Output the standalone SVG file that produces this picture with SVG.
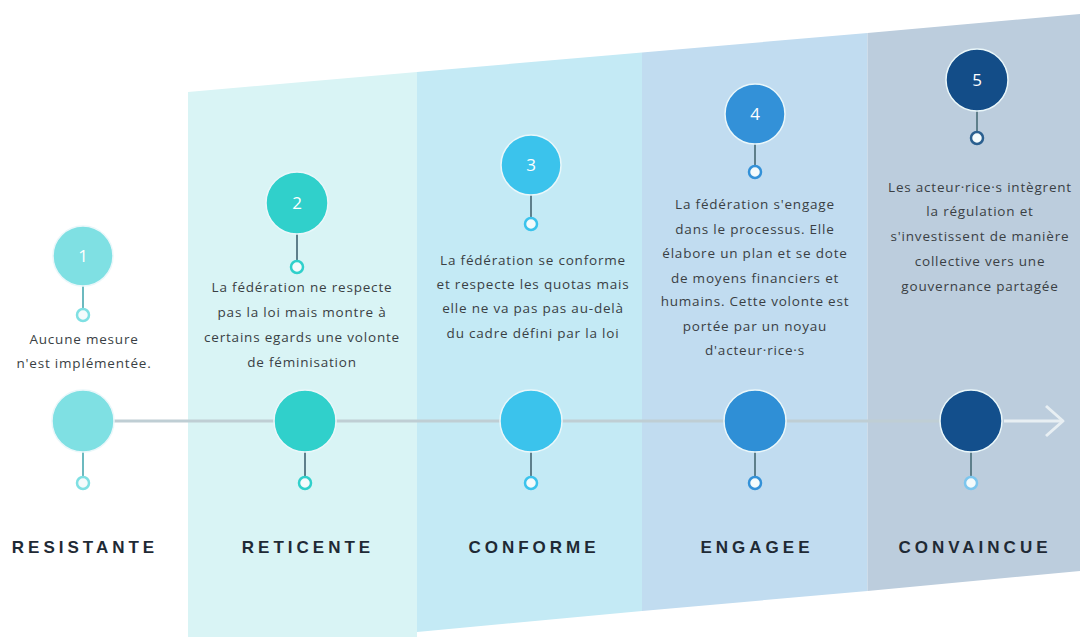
<svg xmlns="http://www.w3.org/2000/svg" width="1080" height="637" viewBox="0 0 1080 637">
<defs>
<style>
.desc{font-family:"Open Sans","Liberation Sans",sans-serif;font-size:13.5px;letter-spacing:0.8px;fill:#3a3f44;text-anchor:middle}
.lbl{font-family:"Liberation Sans",Arial,sans-serif;font-weight:bold;font-size:17px;letter-spacing:4px;fill:#1f2a35;text-anchor:middle}
.num{font-family:"Open Sans","Liberation Sans",sans-serif;font-size:17px;fill:#ffffff;text-anchor:middle}
.stem{stroke:#5e7f8b;stroke-width:2;fill:none}
.big{stroke:#eaf7fa;stroke-width:1.5}
.dot{fill:#f4fbfc;stroke-width:2.5}
</style>
</defs>
<rect width="1080" height="637" fill="#ffffff"/>
<g id="background">
<polygon points="188,92 417,72 417,637 188,637" fill="#d9f4f5"/>
<polygon points="417,72 642,52.5 642,611 417,632 417,637" fill="#c4eaf5"/>
<polygon points="642,52.5 867.5,33 867.5,591 642,611" fill="#c1dcf0"/>
<polygon points="867.5,33 1080,14 1080,571 867.5,591" fill="#bccddd"/>
</g>
<g id="connectors">
<line x1="83" y1="421" x2="1000" y2="421" stroke="#bfced4" stroke-width="3"/>
<line x1="1004" y1="421" x2="1062" y2="421" stroke="#e8eff3" stroke-width="3"/>
<polyline points="1046,406 1063,421 1046,436" fill="none" stroke="#e8eff3" stroke-width="3" stroke-linejoin="round"/>
</g>
<g id="node1">
<line class="stem" x1="83" y1="285" x2="83" y2="309" style="stroke:#6cb9bf"/>
<circle class="big" cx="83" cy="256" r="30" fill="#7fe0e3"/>
<text class="num" x="83" y="262">1</text>
<circle class="dot" cx="83" cy="315" r="6" stroke="#7fe0e3"/>
<text class="desc" x="84" y="344">Aucune mesure</text>
<text class="desc" x="84" y="368">n'est implémentée.</text>
<line class="stem" x1="83" y1="451" x2="83" y2="477" style="stroke:#6cb9bf"/>
<circle class="big" cx="83" cy="421" r="31" fill="#7fe0e3"/>
<circle class="dot" cx="83" cy="483" r="6" stroke="#7fe0e3"/>
<text class="lbl" x="85" y="553">RESISTANTE</text>
</g>
<g id="node2">
<line class="stem" x1="297" y1="233" x2="297" y2="261"/>
<circle class="big" cx="297" cy="203" r="31" fill="#30d0cb"/>
<text class="num" x="297" y="209">2</text>
<circle class="dot" cx="297" cy="267" r="6" stroke="#30d0cb"/>
<text class="desc" x="302" y="292">La fédération ne respecte</text>
<text class="desc" x="302" y="317">pas la loi mais montre à</text>
<text class="desc" x="302" y="342">certains egards une volonte</text>
<text class="desc" x="302" y="367">de féminisation</text>
<line class="stem" x1="305" y1="451" x2="305" y2="477"/>
<circle class="big" cx="305" cy="421" r="31" fill="#30d0cb"/>
<circle class="dot" cx="305" cy="483" r="6" stroke="#30d0cb"/>
<text class="lbl" x="308" y="553">RETICENTE</text>
</g>
<g id="node3">
<line class="stem" x1="531" y1="195" x2="531" y2="218"/>
<circle class="big" cx="531" cy="165" r="30" fill="#3bc3ec"/>
<text class="num" x="531" y="171">3</text>
<circle class="dot" cx="531" cy="224" r="6" stroke="#3bc3ec"/>
<text class="desc" x="533" y="265">La fédération se conforme</text>
<text class="desc" x="533" y="289">et respecte les quotas mais</text>
<text class="desc" x="533" y="313">elle ne va pas pas au-delà</text>
<text class="desc" x="533" y="338">du cadre défini par la loi</text>
<line class="stem" x1="531" y1="451" x2="531" y2="477"/>
<circle class="big" cx="531" cy="421" r="31" fill="#3bc3ec"/>
<circle class="dot" cx="531" cy="483" r="6" stroke="#3bc3ec"/>
<text class="lbl" x="534" y="553">CONFORME</text>
</g>
<g id="node4">
<line class="stem" x1="755" y1="144" x2="755" y2="166"/>
<circle class="big" cx="755" cy="114" r="30" fill="#3391d8"/>
<text class="num" x="755" y="120">4</text>
<circle class="dot" cx="755" cy="172" r="6" stroke="#3391d8"/>
<text class="desc" x="755" y="209">La fédération s'engage</text>
<text class="desc" x="755" y="234">dans le processus. Elle</text>
<text class="desc" x="755" y="258">élabore un plan et se dote</text>
<text class="desc" x="755" y="283">de moyens financiers et</text>
<text class="desc" x="755" y="306">humains. Cette volonte est</text>
<text class="desc" x="755" y="331">portée par un noyau</text>
<text class="desc" x="755" y="355">d'acteur·rice·s</text>
<line class="stem" x1="755" y1="451" x2="755" y2="477"/>
<circle class="big" cx="755" cy="421" r="31" fill="#2f8fd6"/>
<circle class="dot" cx="755" cy="483" r="6" stroke="#3391d8"/>
<text class="lbl" x="757" y="553">ENGAGEE</text>
</g>
<g id="node5">
<line class="stem" x1="977" y1="110" x2="977" y2="132"/>
<circle class="big" cx="977" cy="80" r="31" fill="#134d88"/>
<text class="num" x="977" y="86">5</text>
<circle class="dot" cx="977" cy="138" r="6" stroke="#2a5f8f"/>
<text class="desc" x="980" y="192">Les acteur·rice·s intègrent</text>
<text class="desc" x="980" y="216">la régulation et</text>
<text class="desc" x="980" y="241">s'investissent de manière</text>
<text class="desc" x="980" y="266">collective vers une</text>
<text class="desc" x="980" y="291">gouvernance partagée</text>
<line class="stem" x1="971" y1="451" x2="971" y2="477"/>
<circle class="big" cx="971" cy="421" r="31" fill="#134f8c"/>
<circle class="dot" cx="971" cy="483" r="6" stroke="#7cc6ee"/>
<text class="lbl" x="975" y="553">CONVAINCUE</text>
</g>
</svg>
